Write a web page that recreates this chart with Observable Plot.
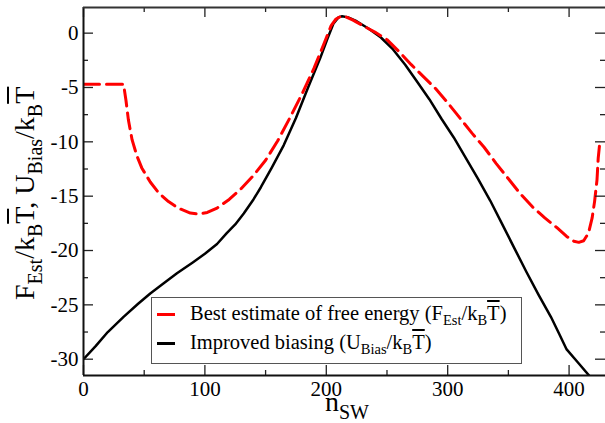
<!DOCTYPE html>
<html>
<head>
<meta charset="utf-8">
<script src="https://cdn.jsdelivr.net/npm/d3@7"></script>
<script src="https://cdn.jsdelivr.net/npm/@observablehq/plot@0.6"></script>
<style>
  html, body { margin: 0; padding: 0; background: white; }
  #wrap { position: relative; width: 605px; height: 423px; overflow: hidden; font-family: "Liberation Serif", "Times New Roman", serif; color: black; }
  #wrap svg text { font-family: "Liberation Serif", "Times New Roman", serif !important; }
  .abs { position: absolute; white-space: nowrap; font-family: "Liberation Serif", "Times New Roman", serif; }
  .ov { text-decoration: overline; text-decoration-thickness: 1.5px; }
</style>
</head>
<body>
<div id="wrap"></div>
<script>
// Best estimate of free energy (red dashed)
const nEst = [0, 33, 35, 37, 40, 44, 48, 55, 62, 70, 78, 88, 95, 102, 110, 120, 130, 140, 150, 160, 170, 180, 190, 198, 204, 208, 212, 216, 222, 230, 240, 250, 260, 270, 280, 290, 300, 310, 320, 330, 340, 350, 360, 370, 380, 390, 398, 404, 408, 412, 416, 419, 421, 423, 424, 425];
const fEst = [-4.7, -4.7, -6.2, -8.0, -9.8, -11.3, -12.4, -13.7, -14.7, -15.5, -16.1, -16.55, -16.65, -16.5, -16.1, -15.3, -14.3, -13.1, -11.7, -9.9, -7.8, -5.6, -3.2, -1.0, 0.7, 1.3, 1.55, 1.5, 1.2, 0.7, 0.1, -0.6, -1.7, -2.9, -4.0, -5.1, -6.4, -7.8, -9.2, -10.5, -12.0, -13.4, -14.8, -16.0, -17.0, -17.9, -18.7, -19.15, -19.25, -19.1, -18.4, -17.0, -15.5, -13.5, -11.5, -10.4];
// Improved biasing (black solid)
const nBias = [0, 10, 20, 33, 45, 55, 65, 77, 90, 100, 110, 118, 125, 132, 140, 146, 155, 165, 175, 185, 195, 201, 206, 210, 213, 218, 225, 235, 245, 255, 265, 275, 285, 295, 305, 315, 325, 335, 345, 355, 365, 375, 385, 392, 398, 408, 418];
const uBias = [-30.0, -28.8, -27.5, -26.1, -24.9, -23.95, -23.1, -22.1, -21.1, -20.3, -19.4, -18.4, -17.6, -16.6, -15.3, -14.2, -12.4, -10.3, -7.8, -5.0, -2.3, -0.5, 0.9, 1.45, 1.55, 1.45, 1.1, 0.4, -0.4, -1.5, -2.9, -4.5, -6.1, -7.9, -9.6, -11.5, -13.4, -15.4, -17.6, -19.8, -22.0, -24.1, -26.1, -27.7, -29.1, -30.4, -31.7];

const xDomain = [0, 430];
const yDomain = [-31.5, 2.36];
const xMajor = [0, 100, 200, 300, 400];
const xMinor = [50, 150, 250, 350];
const yMajor = [-30, -25, -20, -15, -10, -5, 0];
const yMinor = [-27.5, -22.5, -17.5, -12.5, -7.5, -2.5];

const estData = nEst.map((n, i) => ({n, v: fEst[i]}));
const biasData = nBias.map((n, i) => ({n, v: uBias[i]}));

const W = 605, H = 423, mL = 83, mR = 0, mT = 7, mB = 48;
const fw = W - mL - mR, fh = H - mT - mB;
const tk = {stroke: "#222", strokeWidth: 1.3};
const serif = "Liberation Serif";

const chart = Plot.plot({
  width: W, height: H,
  marginLeft: mL, marginRight: mR, marginTop: mT, marginBottom: mB,
  x: {domain: xDomain, axis: null},
  y: {domain: yDomain, axis: null},
  style: {fontFamily: serif, fontSize: "21px", color: "black", background: "white"},
  marks: [
    Plot.line(biasData, {x: "n", y: "v", stroke: "black", strokeWidth: 2.5, clip: true}),
    Plot.line(estData, {x: "n", y: "v", stroke: "#ff0000", strokeWidth: 3, strokeDasharray: "16,7", clip: true}),
    // inward ticks: left, right
    Plot.tickY(yMajor, {y: d => d, insetRight: fw - 10, ...tk}),
    Plot.tickY(yMinor, {y: d => d, insetRight: fw - 5, ...tk}),
    Plot.tickY(yMajor, {y: d => d, insetLeft: fw - 10, ...tk}),
    Plot.tickY(yMinor, {y: d => d, insetLeft: fw - 5, ...tk}),
    // inward ticks: top, bottom
    Plot.tickX(xMajor, {x: d => d, insetBottom: fh - 10, ...tk}),
    Plot.tickX(xMinor, {x: d => d, insetBottom: fh - 5, ...tk}),
    Plot.tickX(xMajor, {x: d => d, insetTop: fh - 10, ...tk}),
    Plot.tickX(xMinor, {x: d => d, insetTop: fh - 5, ...tk}),
    // frame: left, top, bottom
    Plot.ruleX([xDomain[0]], {stroke: "#111", strokeWidth: 2}),
    Plot.ruleY([yDomain[0]], {stroke: "#111", strokeWidth: 2}),
    Plot.ruleY([yDomain[1]], {stroke: "#333", strokeWidth: 2}),
    Plot.axisX(xMajor, {tickSize: 0, tickPadding: 6, tickFormat: d => String(d), fontSize: 21, fontFamily: serif, label: null, fill: "black"}),
    Plot.axisY(yMajor, {tickSize: 0, tickPadding: 5, tickFormat: d => String(d), fontSize: 21, fontFamily: serif, label: null, fill: "black"})
  ]
});

const wrap = document.getElementById("wrap");
chart.style.position = "absolute";
chart.style.left = "0px";
chart.style.top = "0px";
wrap.appendChild(chart);

function addHTML(html, style) {
  const d = document.createElement("div");
  d.className = "abs";
  d.innerHTML = html;
  Object.assign(d.style, style);
  wrap.appendChild(d);
  return d;
}

// y axis label (rotated)
const sub = (t, fs, dy) => `<span style="font-size:${fs}px;position:relative;top:${dy}px">${t}</span>`;
addHTML(
  `F${sub("Est", 20, 8)}/k${sub("B", 20, 8)}<span class="ov">T</span>, U${sub("Bias", 20, 8)}/k${sub("B", 20, 8)}<span class="ov">T</span>`,
  {left: "11px", top: "300px", fontSize: "28px", lineHeight: "28px", transformOrigin: "left top", transform: "rotate(-90deg)"}
);

// x axis label
addHTML(`n${sub("SW", 20, 8)}`, {left: "325px", top: "388px", fontSize: "28px", lineHeight: "28px"});

// legend box
addHTML("", {left: "151px", top: "297px", width: "371px", height: "67px", boxSizing: "border-box", border: "1.5px solid #555", background: "white"});
addHTML("", {left: "157px", top: "312.5px", width: "18px", height: "3px", background: "#ff0000"});
addHTML("", {left: "157px", top: "342px", width: "18px", height: "2.5px", background: "black"});
const lsub = (t) => `<span style="font-size:14.5px;position:relative;top:5px">${t}</span>`;
addHTML(`Best estimate of free energy (F${lsub("Est")}/k${lsub("B")}<span class="ov">T</span>)`,
  {left: "190px", top: "303px", fontSize: "20.5px", lineHeight: "20.5px"});
addHTML(`Improved biasing (U${lsub("Bias")}/k${lsub("B")}<span class="ov">T</span>)`,
  {left: "190px", top: "331.5px", fontSize: "20.5px", lineHeight: "20.5px"});
</script>
</body>
</html>
